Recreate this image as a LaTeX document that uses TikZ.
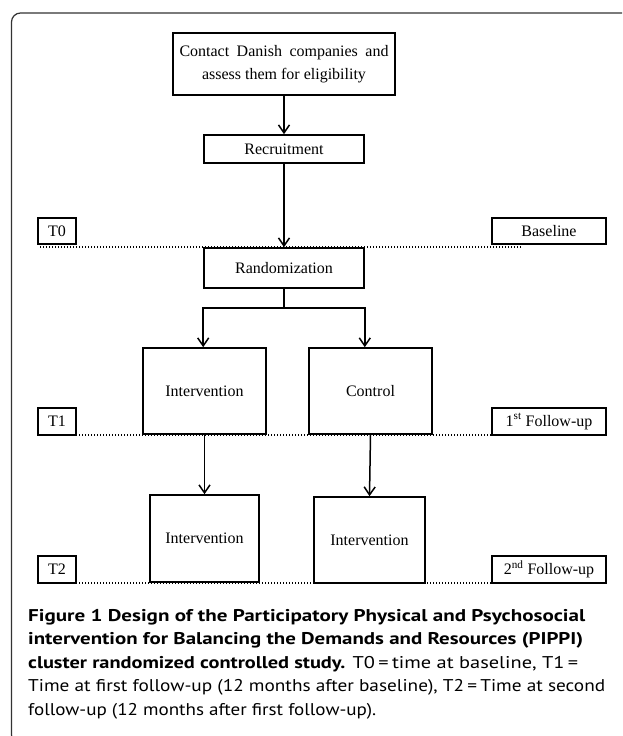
\documentclass[tikz,border=0pt]{standalone}
\usepackage{graphicx}
\usepackage{fontspec}
\setmainfont{Liberation Serif}
\newfontfamily\capfont{PT Sans}
\usetikzlibrary{arrows.meta}
\begin{document}
\begin{tikzpicture}[x=1pt,y=-1pt,
  box/.style={draw,line width=1.6pt,fill=white,inner sep=0pt,font=\fontsize{16}{22.7}\selectfont,align=center},
  arr/.style={line width=1.5pt,-{Straight Barb[length=8pt,width=11pt]}},
  dotline/.style={line width=1.3pt,dash pattern=on 1.2pt off 1.8pt},
  captext/.style={anchor=base west,inner sep=0pt,font=\capfont\fontsize{17}{20}\selectfont}]
\useasboundingbox (0,0) rectangle (622,736);
\begin{scope}
\clip (0,0) rectangle (622,736);
\draw[line width=1.2pt,color=black!80,rounded corners=9pt] (60,744) -- (11.5,744) -- (11.5,13) -- (640,13);
\end{scope}
% time lines
\coordinate (l0a) at (40,247); \coordinate (l0b) at (521,247);
\coordinate (l1a) at (40,435); \coordinate (l1b) at (521,435);
\coordinate (l2a) at (76,583); \coordinate (l2b) at (492,583);
\draw[dotline] (l0a) -- (l0b);
\draw[dotline] (l1a) -- (l1b);
\draw[dotline] (l2a) -- (l2b);
% boxes
\node[box,minimum width=222pt,minimum height=62pt] (contact) at (284,64)
  {\makebox[209pt][s]{Contact Danish companies and}\\assess them for eligibility};
\node[box,minimum width=160pt,minimum height=28pt] (recruit) at (284,149) {Recruitment};
\node[box,minimum width=160pt,minimum height=40pt] (rand) at (284,268) {Randomization};
\node[box,minimum width=123pt,minimum height=86pt] (int1) at (204.5,391) {Intervention};
\node[box,minimum width=123pt,minimum height=86pt] (ctrl) at (370.5,391) {Control};
\node[box,minimum width=109pt,minimum height=87pt] (int2a) at (204.5,538.5) {Intervention};
\node[box,minimum width=111pt,minimum height=86pt] (int2b) at (369.5,540) {Intervention};
\node[box,minimum width=37.5pt,minimum height=26pt] (t0) at (57,231) {T0};
\node[box,minimum width=114pt,minimum height=26pt] (base) at (549,231) {Baseline};
\node[box,minimum width=37.5pt,minimum height=27pt] (t1) at (57,421.5) {T1};
\node[box,minimum width=114pt,minimum height=27pt] (fu1) at (549,421.5) {1\textsuperscript{st} Follow-up};
\node[box,minimum width=37.5pt,minimum height=27pt] (t2) at (57,569.5) {T2};
\node[box,minimum width=114pt,minimum height=27pt] (fu2) at (549,569.5) {2\textsuperscript{nd} Follow-up};
% connectors
\draw[arr] (contact.south) -- (recruit.north);
\draw[arr] (recruit.south) -- (rand.north);
\coordinate (j) at (284,308);
\draw[line width=1.5pt] (rand.south) -- (j);
\draw[arr] (j) -| (rand.west |- int1.north);
\draw[arr] (j) -| (rand.east |- ctrl.north);
\draw[arr] (int1.south) -- (int2a.north);
\draw[arr] (ctrl.south) -- (int2b.north);
% caption
\node[captext] (c1) at (28,621) {\resizebox{557pt}{\height}{\bfseries Figure 1 Design of the Participatory Physical and Psychosocial}};
\node[captext] (c2) at (28,644) {\resizebox{555pt}{\height}{\bfseries intervention for Balancing the Demands and Resources (PIPPI)}};
\node[captext] (c3) at (28,668) {\resizebox{550pt}{\height}{\textbf{cluster randomized controlled study.} T0\,=\,time at baseline, T1\,=}};
\node[captext] (c4) at (28,691.5) {\resizebox{577pt}{\height}{Time at first follow-up (12 months after baseline), T2\,=\,Time at second}};
\node[captext] (c5) at (28,715) {\resizebox{348pt}{\height}{follow-up (12 months after first follow-up).}};
\end{tikzpicture}
\end{document}
